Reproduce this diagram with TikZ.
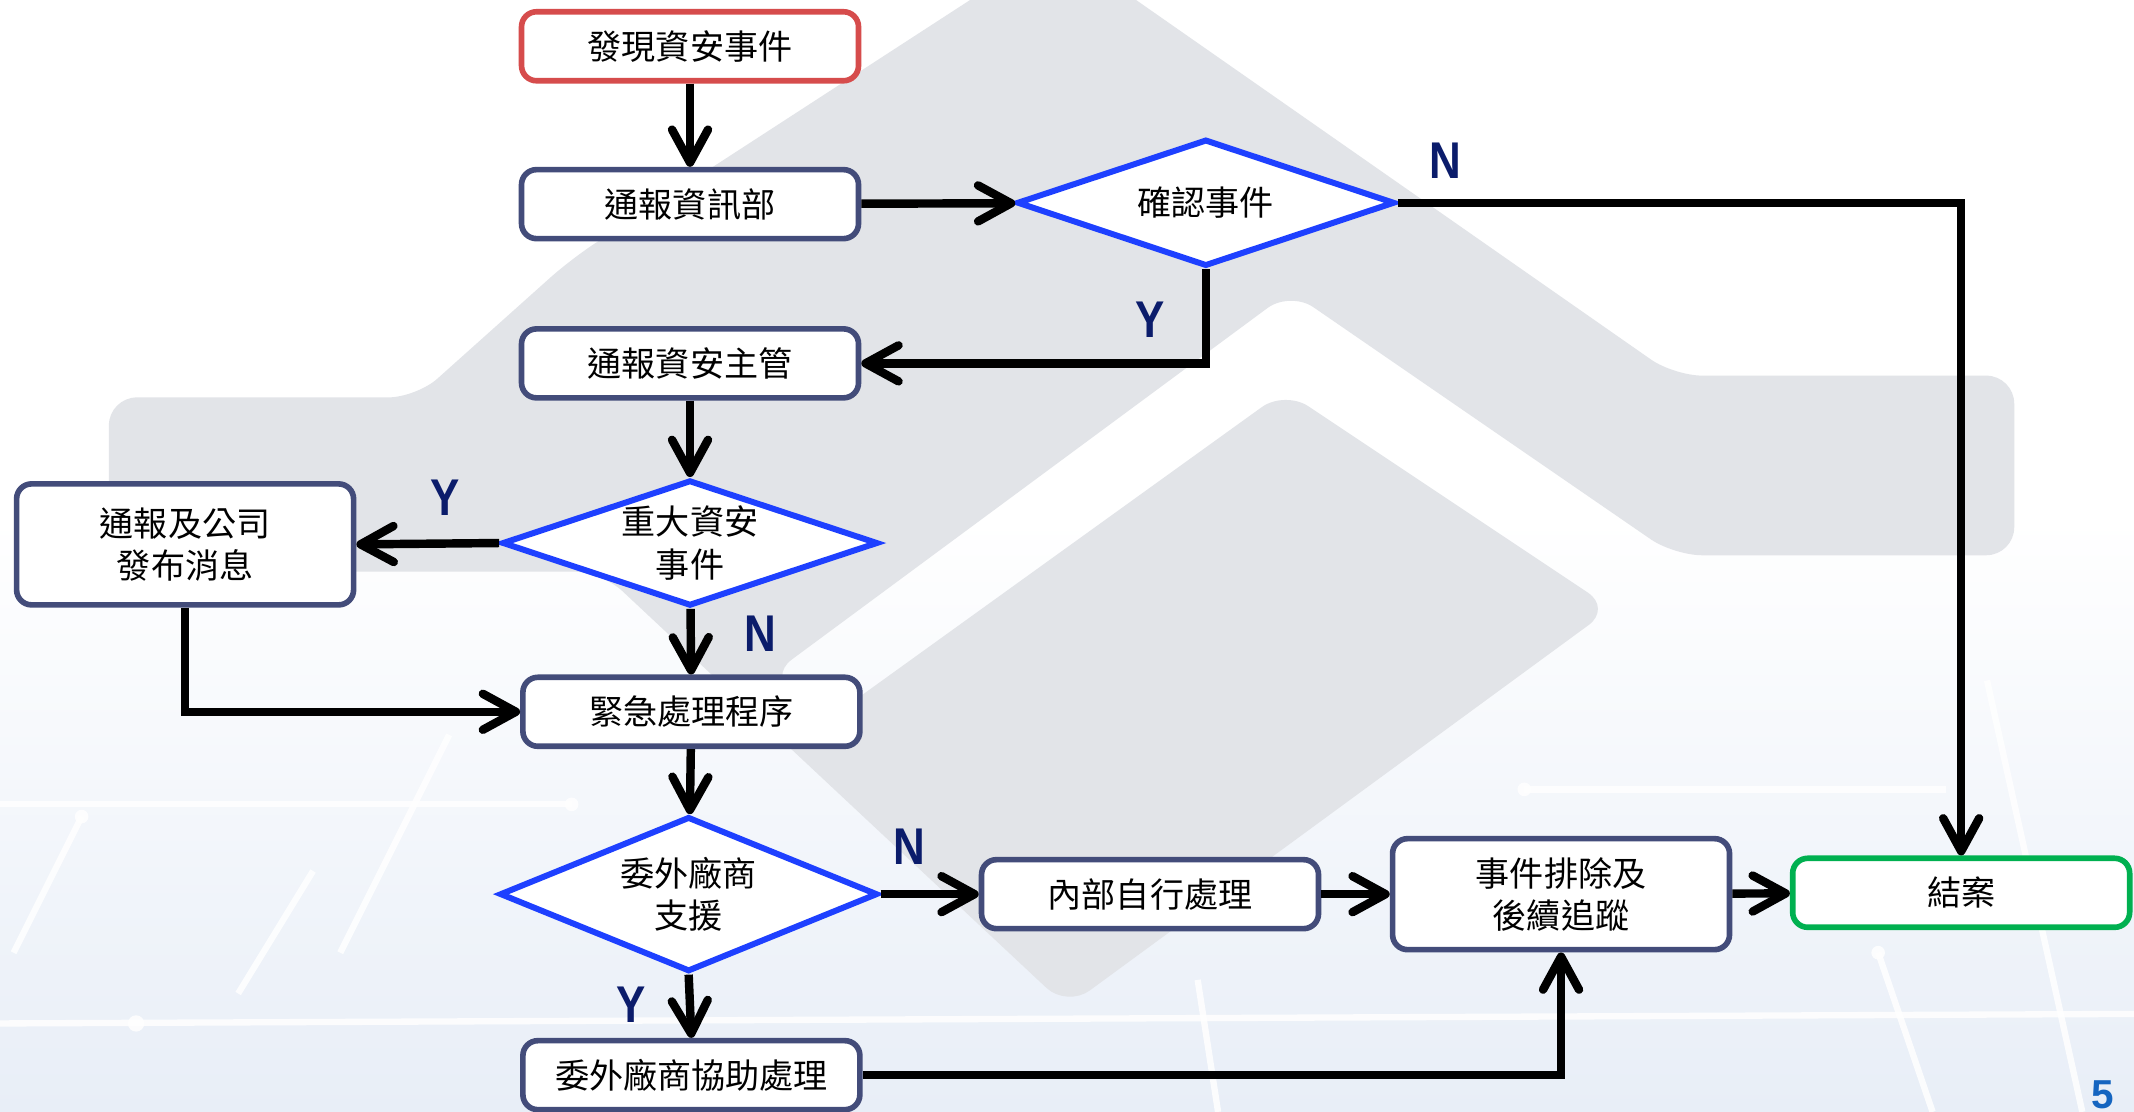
\documentclass[tikz,border=0pt]{standalone}
\usepackage{fontspec}
\newfontfamily\cjk{Noto Sans CJK TC}
\newfontfamily\ynfont[FakeStretch=0.85]{Liberation Sans}
\newfontfamily\pnfont{Liberation Sans}
\usetikzlibrary{arrows.meta,shapes.geometric}
\definecolor{boxline}{RGB}{67,76,122}
\definecolor{redline}{RGB}{214,76,76}
\definecolor{greenline}{RGB}{0,176,80}
\definecolor{dialine}{RGB}{30,64,255}
\definecolor{ynblue}{RGB}{11,28,107}
\definecolor{wm}{RGB}{226,228,232}
\definecolor{bgbot}{RGB}{232,238,247}
\definecolor{pagenum}{RGB}{21,101,192}
\begin{document}
\begin{tikzpicture}[x=0.013610cm, y=-0.013610cm,
  cjkfont/.style={font=\cjk\fontsize{9.7}{12}\selectfont},
  box/.style={draw=boxline, line width=1.6pt, fill=white, rounded corners=0.15cm,
    minimum width=3.37cm, minimum height=0.69cm, align=center, inner sep=0pt, cjkfont},
  dia/.style={draw=dialine, line width=1.7pt, fill=white, diamond, inner sep=0pt},
  diatext/.style={align=center, inner sep=0pt, cjkfont},
  conn/.style={line width=2.4pt, draw=black, -{Straight Barb[length=3.3mm,width=3.6mm,round]}},
  lbl/.style={font=\ynfont\bfseries\fontsize{14.7}{16}\selectfont, text=ynblue, inner sep=0pt},
  circuit/.style={draw=white, line width=1.8pt, opacity=0.85}
]
\useasboundingbox (0,0) rectangle (1568,817);
\clip (0,0) rectangle (1568,817);
% background
\fill[white] (0,0) rectangle (1568,817);
\fill[top color=white, bottom color=bgbot] (0,380) rectangle (1568,817);
% faint circuit pattern
\draw[circuit] (0,591) -- (420,591);
\draw[circuit] (0,752) -- (1568,745);
\draw[circuit] (60,600) -- (10,700);
\draw[circuit] (230,640) -- (175,730);
\draw[circuit] (330,540) -- (250,700);
\draw[circuit] (880,720) -- (895,817);
\draw[circuit] (1380,700) -- (1420,817);
\draw[circuit] (1120,580) -- (1430,580);
\draw[circuit] (1460,500) -- (1530,817);
\fill[white, opacity=0.85] (60,600) circle (5) (420,591) circle (5) (1120,580) circle (5) (1380,700) circle (5) (100,752) circle (6);
% watermark
\fill[wm, rounded corners=8pt]
  (776,-41) -- (1230,276) -- (1480,276) -- (1480,408) -- (1230,408) -- (948,214)
  -- (565,497) -- (608,529) -- (944,287) -- (1184,447) -- (784,740) -- (442,420)
  -- (80,420) -- (80,292) -- (306,292) -- (420,190) -- cycle;

% nodes
\node[box, draw=redline] (top) at (507,34) {發現資安事件};
\node[box] (r1) at (507,150) {通報資訊部};
\node[dia, minimum width=3.78cm, minimum height=1.27cm, label={[diatext]center:確認事件}] (conf) at (886,149) {};
\node[box] (r2) at (507,267) {通報資安主管};
\node[dia, minimum width=3.76cm, minimum height=1.26cm, label={[diatext]center:重大資安\\事件}] (major) at (507,399) {};
\node[box, minimum height=1.21cm] (notify) at (136,400) {通報及公司\\發布消息};
\node[box] (emerg) at (508,523) {緊急處理程序};
\node[dia, minimum width=3.78cm, minimum height=1.55cm, label={[diatext]center:委外廠商\\支援}] (vendor) at (506,657) {};
\node[box] (internal) at (845,657) {內部自行處理};
\node[box, minimum height=1.11cm] (follow) at (1147,657) {事件排除及\\後續追蹤};
\node[box, draw=greenline] (end) at (1441,656) {結案};
\node[box] (assist) at (508,790) {委外廠商協助處理};

% connectors
\draw[conn] (top) -- (r1);
\draw[conn] (r1) -- (conf);
\draw[conn] (conf.east) -| (end.north);
\draw[conn] (conf.south) |- (r2.east);
\draw[conn] (r2) -- (major);
\draw[conn] (major.west) -- (notify.east);
\draw[conn] (notify.south) |- (emerg.west);
\draw[conn] (major) -- (emerg);
\draw[conn] (emerg) -- (vendor);
\draw[conn] (vendor.east) -- (internal.west);
\draw[conn] (internal) -- (follow);
\draw[conn] (follow) -- (end);
\draw[conn] (vendor.south) -- (assist.north);
\draw[conn] (assist.east) -| (follow.south);

% labels
\node[lbl] (n1) at (1062,118) {N};
\node[lbl] (y1) at (845,235) {Y};
\node[lbl] (y2) at (327,366) {Y};
\node[lbl] (n2) at (559,466) {N};
\node[lbl] (n3) at (668,622) {N};
\node[lbl] (y3) at (464,738) {Y};
\node[anchor=south, inner sep=0pt, text=pagenum, font=\pnfont\bfseries\fontsize{11.5}{12}\selectfont] (pg) at (1545,815) {5};
\end{tikzpicture}
\end{document}
